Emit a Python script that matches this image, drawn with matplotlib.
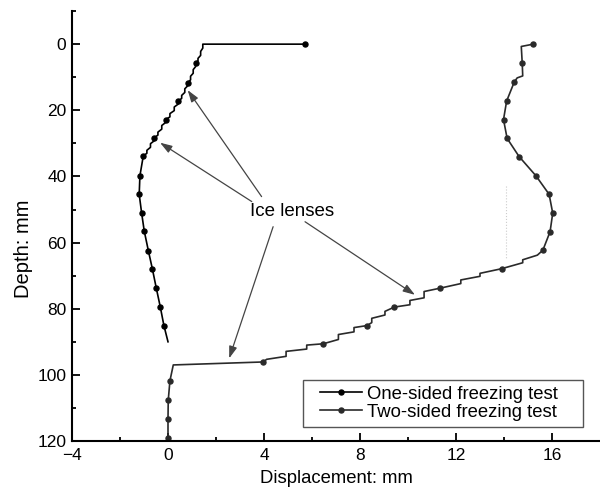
import matplotlib
matplotlib.use("Agg")
import matplotlib.pyplot as plt
from matplotlib.patches import Rectangle

plt.rcParams['font.family'] = ['Liberation Sans', 'DejaVu Sans']

# One-sided freezing test (left curve) – line vertices (displacement mm, depth mm)
one_x = [5.70, 1.45, 1.45, 1.36, 1.36, 1.25, 1.25, 1.15,
         1.15, 1.05, 1.05, 0.94, 0.94, 0.82,
         0.82, 0.70, 0.70, 0.57, 0.57, 0.43,
         0.43, 0.26, 0.26, 0.08, 0.08, -0.10,
         -0.10, -0.26, -0.26, -0.42, -0.42, -0.57,
         -0.57, -0.73, -0.73, -0.88, -0.88, -1.03,
         -1.17, -1.20, -1.10, -0.99, -0.82, -0.65, -0.49, -0.32, -0.17, 0.00]
one_d = [0.0, 0.0, 1.2, 2.2, 3.4, 4.3, 5.0, 5.8,
         6.8, 7.7, 8.8, 9.7, 10.8, 11.7,
         12.6, 13.5, 14.6, 15.5, 16.4, 17.2,
         18.1, 19.0, 20.1, 21.0, 22.0, 22.8,
         23.7, 24.6, 25.7, 26.6, 27.5, 28.3,
         29.2, 30.1, 31.2, 32.1, 33.0, 33.8,
         39.8, 45.4, 51.0, 56.5, 62.4, 68.0, 73.7, 79.5, 85.1, 90.0]
one_marks = [0, 7, 13, 19, 25, 31, 37, 38, 39, 40, 41, 42, 43, 44, 45, 46]

# Two-sided freezing test (right curve)
two_x = [15.22, 14.72, 14.76, 14.78, 14.55, 14.43, 14.11, 13.98, 14.13, 14.63,
         15.33, 15.88, 16.03, 15.92, 15.62, 15.39, 14.78, 14.78, 13.90,
         13.00, 13.00, 12.20, 12.20, 11.33, 10.67, 10.67, 10.08, 10.08, 9.43,
         9.04, 9.04, 8.49, 8.49, 8.29, 7.75, 7.75, 7.10, 7.10, 6.47,
         5.78, 5.78, 4.92, 4.92, 4.11, 3.97, 0.22, 0.08, 0.01, 0.00, 0.00]
two_d = [0.0, 0.7, 5.8, 9.6, 10.2, 11.4, 17.2, 22.8, 28.5, 34.0,
         39.8, 45.4, 51.1, 56.7, 62.3, 63.8, 65.2, 66.1, 67.9,
         69.3, 70.2, 71.3, 72.4, 73.8, 74.8, 76.7, 77.5, 78.8, 79.5,
         80.8, 81.9, 82.9, 84.2, 85.1, 85.7, 87.0, 87.8, 89.3, 90.6,
         91.0, 92.2, 92.9, 94.4, 95.3, 96.1, 97.0, 101.8, 107.7, 113.4, 119.1]
two_marks = [0, 2, 5, 6, 7, 8, 9, 10, 11, 12, 13, 14, 18, 23, 28, 33, 38, 44, 46, 47, 48, 49]

# faint guide line
guide_x = [14.1, 14.1]
guide_d = [43.0, 65.0]

# annotation: text position and arrow (tail, head) pairs
label_text = "Ice lenses"
label_pos = (5.17, 50.5)
arrow_tails = [(3.90, 46.1), (3.49, 47.6), (4.38, 55.2), (5.71, 53.7)]
arrow_heads = [(0.82, 13.9), (-0.33, 29.8), (2.55, 95.0), (10.29, 75.8)]

x_major = [-4, 0, 4, 8, 12, 16]
x_minor = [-2, 2, 6, 10, 14]
y_major = [0, 20, 40, 60, 80, 100, 120]
y_minor = [-10, 10, 30, 50, 70, 90, 110]

fig = plt.figure(figsize=(6.0, 4.88), dpi=100)
ax = fig.add_axes([0.12, 0.0963, 0.88, 0.881])

ax.plot(guide_x, guide_d, color='#cccccc', lw=0.8, ls=':')

ax.plot(one_x, one_d, color='black', lw=1.2, marker='o', markersize=3.6,
        markevery=one_marks, label='One-sided freezing test')
ax.plot(two_x, two_d, color='#2a2a2a', lw=1.2, marker='o', markersize=3.6,
        markevery=two_marks, label='Two-sided freezing test')

ax.text(label_pos[0], label_pos[1], label_text, fontsize=13.5, ha='center', va='center')
for t, h in zip(arrow_tails, arrow_heads):
    ax.annotate('', xy=h, xytext=t,
                arrowprops=dict(arrowstyle='-|>,head_length=0.6,head_width=0.2',
                                color='#444444', lw=0.9,
                                mutation_scale=12, shrinkA=0, shrinkB=0))

ax.set_xlim(-4, 18)
ax.set_ylim(120, -10)
ax.set_xticks(x_major)
ax.set_xticks(x_minor, minor=True)
ax.set_yticks(y_major)
ax.set_yticks(y_minor, minor=True)
ax.tick_params(which='major', direction='in', length=6, width=1.3, labelsize=12.5)
ax.tick_params(which='minor', direction='in', length=3, width=1.3)
ax.tick_params(axis='x', pad=5)
ax.tick_params(axis='y', pad=4)

for s in ['top', 'right']:
    ax.spines[s].set_visible(False)
for s in ['left', 'bottom']:
    ax.spines[s].set_linewidth(1.5)

ax.set_xlabel('Displacement: mm', fontsize=13.3)
ax.xaxis.set_label_coords(0.501, -0.068)
ax.set_ylabel('Depth: mm', fontsize=14.5)
ax.yaxis.set_label_coords(-0.074, 0.447)

# legend frame drawn separately, legend content centered inside it
frame = Rectangle((0.4375, 0.0326), 0.530, 0.109, transform=ax.transAxes,
                  facecolor='white', edgecolor='#555555', lw=1.0, zorder=4)
ax.add_patch(frame)
leg = ax.legend(loc='center', bbox_to_anchor=(0.695, 0.088), borderaxespad=0,
                fontsize=13.3, frameon=False,
                labelspacing=0.05, borderpad=0, handlelength=2.3, handletextpad=0.25)
leg.set_zorder(5)

fig.savefig('out.png', dpi=100)
